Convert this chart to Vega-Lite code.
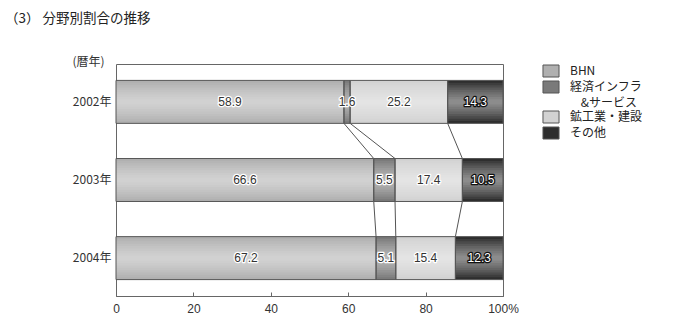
{
  "$schema": "https://vega.github.io/schema/vega-lite/v6.json",
  "autosize": {"type": "none"},
  "width": 387,
  "height": 232,
  "padding": {"left": 116, "top": 64, "right": 197, "bottom": 35},
  "background": "white",
  "title": {
    "text": "（3） 分野別割合の推移",
    "anchor": "start",
    "frame": "group",
    "dx": -111,
    "offset": 29.5,
    "font": "Noto Sans CJK JP",
    "fontSize": 13.5,
    "fontWeight": "normal",
    "color": "#222"
  },
  "config": {
    "view": {"stroke": "#666", "strokeWidth": 1},
    "font": "Noto Sans CJK JP"
  },
  "datasets": {
    "shares": [
      {"year": "2002年", "sector": "BHN", "k": 1, "value": 58.9},
      {"year": "2002年", "sector": "経済インフラ&サービス", "k": 2, "value": 1.6},
      {"year": "2002年", "sector": "鉱工業・建設", "k": 3, "value": 25.2},
      {"year": "2002年", "sector": "その他", "k": 4, "value": 14.3},
      {"year": "2003年", "sector": "BHN", "k": 1, "value": 66.6},
      {"year": "2003年", "sector": "経済インフラ&サービス", "k": 2, "value": 5.5},
      {"year": "2003年", "sector": "鉱工業・建設", "k": 3, "value": 17.4},
      {"year": "2003年", "sector": "その他", "k": 4, "value": 10.5},
      {"year": "2004年", "sector": "BHN", "k": 1, "value": 67.2},
      {"year": "2004年", "sector": "経済インフラ&サービス", "k": 2, "value": 5.1},
      {"year": "2004年", "sector": "鉱工業・建設", "k": 3, "value": 15.4},
      {"year": "2004年", "sector": "その他", "k": 4, "value": 12.3}
    ],
    "links": [
      {"from": "2002年", "to": "2003年", "a": 58.9, "b": 66.6},
      {"from": "2002年", "to": "2003年", "a": 60.5, "b": 72.1},
      {"from": "2002年", "to": "2003年", "a": 85.7, "b": 89.5},
      {"from": "2003年", "to": "2004年", "a": 66.6, "b": 67.2},
      {"from": "2003年", "to": "2004年", "a": 72.1, "b": 72.3},
      {"from": "2003年", "to": "2004年", "a": 89.5, "b": 87.7}
    ]
  },
  "layer": [
    {
      "data": {"name": "links"},
      "mark": {"type": "rule", "color": "#555", "strokeWidth": 1},
      "encoding": {
        "x": {"field": "a", "type": "quantitative", "scale": {"domain": [0, 100]}},
        "x2": {"field": "b"},
        "y": {"field": "from", "type": "nominal", "bandPosition": 1},
        "y2": {"field": "to", "bandPosition": 0}
      }
    },
    {
      "data": {"name": "shares"},
      "transform": [
        {"stack": "value", "groupby": ["year"], "sort": [{"field": "k", "order": "ascending"}], "as": ["x0", "x1"]}
      ],
      "encoding": {
        "y": {"field": "year", "type": "nominal",
          "scale": {"domain": ["2002年", "2003年", "2004年"], "paddingInner": 0.45, "paddingOuter": 0.21},
          "axis": {"title": "(暦年)", "titleAngle": 0, "titleX": -28, "titleY": -3, "titleAlign": "center", "titleBaseline": "middle",
            "titleFontWeight": "normal", "titleFontSize": 12, "titleColor": "#333",
            "domain": false, "ticks": false, "labelPadding": 5, "labelFontSize": 12, "labelColor": "#333"}}
      },
      "layer": [
        {
          "mark": {"type": "bar", "strokeWidth": 0},
          "encoding": {
            "x": {"field": "x0", "type": "quantitative", "scale": {"domain": [0, 100]},
              "axis": {"values": [0, 20, 40, 60, 80, 100], "title": null, "grid": false, "labelFlush": false,
                "labelExpr": "datum.value == 100 ? '100%' : datum.label",
                "tickSize": -4, "tickColor": "#666", "domainColor": "#666",
                "labelFont": "Liberation Sans", "labelFontSize": 12, "labelColor": "#333", "labelPadding": 11}},
            "x2": {"field": "x1"},
            "fill": {"field": "sector", "type": "nominal",
              "scale": {
                "domain": ["BHN", "経済インフラ&サービス", "鉱工業・建設", "その他"],
                "range": ["#b0b0b0", "#7a7a7a", "#d2d2d2", "#2e2e2e"]
              },
              "legend": {
                "title": null, "orient": "none", "legendX": 427, "legendY": -1,
                "symbolType": "M-1.07,-0.8H1.07V0.8H-1.07Z", "symbolSize": 225, "symbolStrokeColor": "#555", "symbolStrokeWidth": 1,
                "labelFontSize": 12, "labelColor": "#222", "labelOffset": 11, "rowPadding": 0, "padding": 0,
                "labelExpr": "datum.label == '経済インフラ&サービス' ? ['経済インフラ', '\u200b\u00a0\u00a0\u00a0\u00a0&サービス'] : datum.label",
                "encode": {"labels": {"update": {"lineHeight": {"value": 16}}}}
              }
            }
          }
        },
        {
          "encoding": {"x": {"field": "x0", "type": "quantitative"}, "x2": {"field": "x1"}},
          "layer": [
            {"mark": {"type": "bar", "fill": "#fff", "opacity": 0.075, "strokeWidth": 0, "height": {"band": 0.89}}},
            {"mark": {"type": "bar", "fill": "#fff", "opacity": 0.075, "strokeWidth": 0, "height": {"band": 0.78}}},
            {"mark": {"type": "bar", "fill": "#fff", "opacity": 0.075, "strokeWidth": 0, "height": {"band": 0.67}}},
            {"mark": {"type": "bar", "fill": "#fff", "opacity": 0.075, "strokeWidth": 0, "height": {"band": 0.56}}},
            {"mark": {"type": "bar", "fill": "#fff", "opacity": 0.075, "strokeWidth": 0, "height": {"band": 0.45}}},
            {"mark": {"type": "bar", "fill": "#fff", "opacity": 0.075, "strokeWidth": 0, "height": {"band": 0.34}}},
            {"mark": {"type": "bar", "fill": "#fff", "opacity": 0.075, "strokeWidth": 0, "height": {"band": 0.23}}},
            {"mark": {"type": "bar", "fill": "#fff", "opacity": 0.075, "strokeWidth": 0, "height": {"band": 0.12}}},
            {"mark": {"type": "bar", "fill": null, "fillOpacity": 0, "stroke": "#555", "strokeWidth": 1}}
          ]
        },
        {
          "transform": [
            {"fold": ["x0", "x1"], "as": ["end", "pos"]},
            {"aggregate": [{"op": "mean", "field": "pos", "as": "mid"}], "groupby": ["year", "k", "value"]}
          ],
          "encoding": {
            "x": {"field": "mid", "type": "quantitative"},
            "text": {"field": "value", "type": "quantitative", "format": ".1f"}
          },
          "layer": [
            {
              "mark": {"type": "text", "font": "Liberation Sans", "fontSize": 12, "strokeWidth": 2.5, "strokeJoin": "round"},
              "encoding": {
                "stroke": {"condition": {"test": "datum.k == 4", "value": "#111"}, "value": "#fff"},
                "fill": {"condition": {"test": "datum.k == 4", "value": "#111"}, "value": "#fff"}
              }
            },
            {
              "mark": {"type": "text", "font": "Liberation Sans", "fontSize": 12},
              "encoding": {
                "fill": {"condition": {"test": "datum.k == 4", "value": "#fff"}, "value": "#333"}
              }
            }
          ]
        }
      ]
    }
  ]
}
